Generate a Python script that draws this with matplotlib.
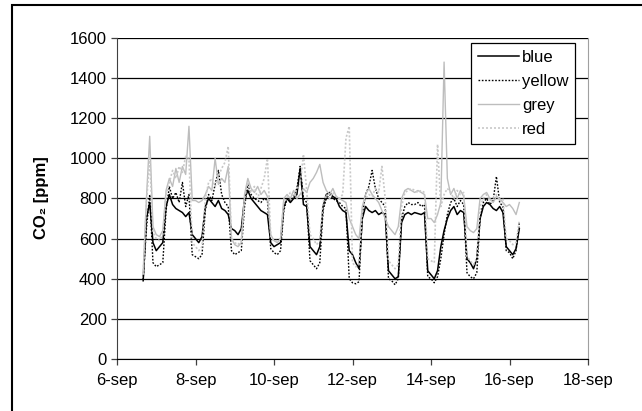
import numpy as np
import pandas as pd
import matplotlib
matplotlib.use("Agg")
import matplotlib.pyplot as plt
from matplotlib.patches import Rectangle

plt.rcParams['font.family'] = ['Liberation Sans', 'DejaVu Sans']
plt.rcParams['font.size'] = 12

# 2-hourly readings, 6-sep 16:00 to 16-sep 06:00
times = pd.date_range('2007-09-06 16:00', periods=116, freq='2h')

blue = [390, 700, 780, 580,                                          # 6-sep
        540, 560, 580, 760, 820, 770, 750, 740, 730, 710, 730, 620,  # 7-sep
        600, 580, 610, 760, 800, 780, 760, 790, 750, 740, 720, 650,  # 8-sep
        640, 620, 650, 800, 840, 800, 780, 760, 740, 730, 720, 580,  # 9-sep
        560, 570, 580, 760, 800, 780, 800, 820, 950, 770, 760, 560,  # 10-sep
        540, 520, 560, 760, 820, 830, 810, 800, 760, 740, 730, 540,  # 11-sep
        520, 480, 450, 700, 760, 740, 730, 740, 720, 730, 720, 440,  # 12-sep
        420, 400, 410, 680, 720, 730, 720, 730, 725, 720, 730, 440,  # 13-sep
        420, 400, 440, 560, 640, 700, 740, 760, 720, 740, 730, 500,  # 14-sep
        480, 450, 500, 700, 760, 780, 770, 750, 740, 760, 730, 560,  # 15-sep
        540, 520, 550, 650]                                          # 16-sep

yellow = [395, 650, 820, 480,
          460, 470, 480, 740, 860, 800, 830, 780, 880, 760, 820, 520,
          510, 500, 520, 740, 820, 790, 870, 940, 820, 780, 760, 540,
          520, 530, 540, 760, 870, 820, 800, 790, 780, 800, 790, 550,
          530, 520, 540, 740, 800, 790, 810, 850, 960, 800, 780, 490,
          470, 450, 480, 740, 800, 820, 800, 790, 780, 760, 750, 400,
          380, 375, 385, 720, 820, 860, 940, 850, 800, 780, 760, 400,
          390, 370, 400, 700, 760, 780, 770, 770, 780, 760, 770, 410,
          400, 380, 410, 500, 620, 720, 780, 800, 760, 790, 770, 430,
          410, 400, 430, 700, 780, 800, 770, 790, 910, 780, 760, 540,
          530, 500, 540, 680]

grey = [430, 800, 1110, 660,
        620, 610, 640, 840, 900, 860, 950, 880, 960, 920, 1160, 790,
        790, 780, 790, 820, 860, 840, 1000, 870, 900, 880, 960, 600,
        570, 560, 580, 820, 900, 850, 830, 860, 820, 840, 810, 620,
        590, 580, 600, 800, 820, 800, 840, 800, 820, 850, 830, 880,
        900, 930, 970, 880, 840, 820, 850, 810, 800, 790, 780, 700,
        660, 620, 600, 760, 820, 850, 820, 800, 780, 740, 700, 660,
        640, 620, 660, 800, 840, 850, 840, 830, 840, 830, 820, 700,
        700, 680, 720, 780, 1480, 900, 820, 850, 800, 840, 810, 660,
        640, 630, 650, 800, 820, 830, 800, 780, 810, 800, 780, 760,
        770, 750, 720, 780]

red = [420, 780, 1000, 630,
       600, 590, 620, 820, 880, 940, 900, 960, 930, 1010, 1000, 580,
       560, 540, 560, 800, 880, 900, 860, 910, 950, 980, 1060, 600,
       580, 570, 590, 800, 880, 830, 860, 800, 850, 900, 1000, 610,
       590, 590, 600, 780, 800, 830, 810, 850, 870, 1020, 840, 620,
       600, 570, 590, 780, 820, 800, 830, 810, 800, 820, 1100, 1160,
       480, 460, 470, 740, 800, 820, 810, 850, 830, 960, 800, 490,
       470, 450, 470, 760, 830, 840, 850, 840, 830, 840, 830, 500,
       490, 480, 1070, 760, 820, 850, 830, 800, 840, 820, 830, 510,
       490, 470, 500, 760, 800, 820, 790, 800, 820, 790, 800, 600,
       590, 570, 580, 690]

tick_dates = pd.date_range('2007-09-06', '2007-09-18', freq='2D')
tick_labels = ['6-sep', '8-sep', '10-sep', '12-sep', '14-sep', '16-sep', '18-sep']

fig = plt.figure(figsize=(6.42, 4.11), dpi=100)
ax = fig.add_axes([117/642, 1 - 359/411, (588 - 117)/642, (359 - 38)/411])

ax.plot(times, blue, color='black', lw=1.1, label='blue')
ax.plot(times, yellow, color='black', lw=1.0, ls=(0, (1.2, 1.2)), label='yellow')
ax.plot(times, grey, color='#bdbdbd', lw=1.0, label='grey')
ax.plot(times, red, color='#c8c8c8', lw=1.2, ls=(0, (1.2, 1.2)), label='red')

ax.set_ylim(0, 1600)
ax.set_yticks(np.arange(0, 1601, 200))
ax.set_xlim(tick_dates[0], tick_dates[-1])
ax.set_xticks(tick_dates)
ax.set_xticklabels(tick_labels)
ax.yaxis.grid(True, color='black', lw=0.9)
ax.set_axisbelow(True)

ax.spines['top'].set_visible(False)
ax.spines['left'].set_color('#404040')
ax.spines['bottom'].set_color('black')
ax.spines['right'].set_color('#a0a0a0')
ax.tick_params(axis='both', direction='out', length=4, width=0.9, colors='#404040',
               labelcolor='black', labelsize=12)
ax.tick_params(axis='x', pad=6)

fig.text(42/642, 1 - 198/411, 'CO₂ [ppm]', rotation=90, ha='center', va='center',
         fontsize=12, fontweight='bold')

leg = ax.legend(loc='upper right', bbox_to_anchor=(575/642, 1 - 43/411),
                bbox_transform=fig.transFigure, fontsize=12, fancybox=False,
                edgecolor='black', framealpha=1, handlelength=2.5,
                handletextpad=0.15, labelspacing=0.55, borderpad=0.4,
                borderaxespad=0)
leg.get_frame().set_linewidth(0.9)

# outer chart border
fig.add_artist(Rectangle((12/642, -0.1), 1.2, 1.1 - 5/411, transform=fig.transFigure,
                         fill=False, edgecolor='black', lw=1.5, clip_on=False))

fig.savefig('out.png', dpi=100)
